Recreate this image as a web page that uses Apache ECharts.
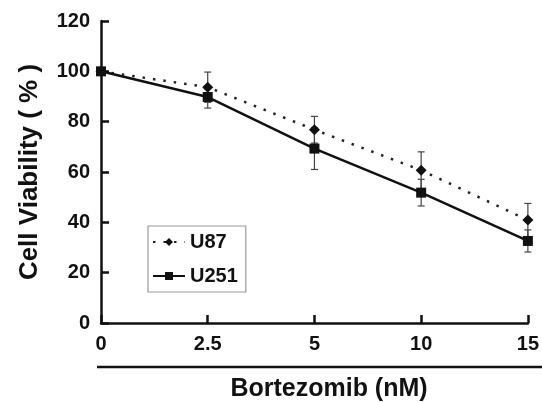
<!DOCTYPE html>
<html>
<head>
<meta charset="utf-8">
<script src="https://cdn.jsdelivr.net/npm/echarts@6/dist/echarts.min.js"></script>
<style>html,body{margin:0;padding:0;background:#fff}#c{width:542px;height:402px}</style>
</head>
<body>
<div id="c"></div>
<script>
const categories = ['0', '2.5', '5', '10', '15'];
const u87Values = [100, 93.7, 76.8, 60.7, 40.9];
const u87Errors = [0, 6.0, 5.3, 7.3, 6.6];
const u251Values = [100, 89.8, 69.3, 51.8, 32.6];
const u251Errors = [0, 4.4, 8.3, 5.3, 4.4];
const yTicks = [0, 20, 40, 60, 80, 100, 120];

const FONT = 'Liberation Sans, Arial, sans-serif';

function errData(vals, errs) {
  return vals.map((v, i) => [i, v - errs[i], v + errs[i]]);
}
function errRender(params, api) {
  const i = api.value(0);
  const lo = api.coord([i, api.value(1)]);
  const hi = api.coord([i, api.value(2)]);
  if (Math.abs(lo[1] - hi[1]) < 1) return null;
  const w = 3.5;
  const st = { stroke: '#444', lineWidth: 1.2 };
  return {
    type: 'group',
    children: [
      { type: 'line', shape: { x1: lo[0], y1: lo[1], x2: hi[0], y2: hi[1] }, style: st },
      { type: 'line', shape: { x1: lo[0] - w, y1: lo[1], x2: lo[0] + w, y2: lo[1] }, style: st },
      { type: 'line', shape: { x1: hi[0] - w, y1: hi[1], x2: hi[0] + w, y2: hi[1] }, style: st }
    ]
  };
}

const chart = echarts.init(document.getElementById('c'), null, { renderer: 'canvas' });
chart.setOption({
  animation: false,
  backgroundColor: '#fff',
  textStyle: { fontFamily: FONT },
  grid: { left: 101, right: 13, top: 21, bottom: 79, containLabel: false },
  legend: {
    left: 148, top: 226, orient: 'vertical',
    data: ['U87', 'U251'],
    borderColor: '#999', borderWidth: 1.2,
    padding: [6, 8, 6, 4],
    itemWidth: 32, itemHeight: 10, itemGap: 14,
    textStyle: { fontFamily: FONT, fontWeight: 'bold', fontSize: 20, color: '#111' }
  },
  xAxis: {
    type: 'category', data: categories, boundaryGap: false,
    axisLine: { lineStyle: { color: '#111', width: 2.5 } },
    axisTick: { inside: true, length: 8, lineStyle: { color: '#111', width: 2.5 }, alignWithLabel: true },
    axisLabel: { color: '#111', fontWeight: 'bold', fontSize: 20, margin: 11, fontFamily: FONT },
    splitLine: { show: false }
  },
  yAxis: {
    type: 'value', min: 0, max: 120, interval: 20,
    name: 'Cell Viability ( % )', nameLocation: 'middle', nameGap: 58,
    nameTextStyle: { fontWeight: 'bold', fontSize: 26, color: '#111', fontFamily: FONT },
    axisLine: { show: true, lineStyle: { color: '#111', width: 2.5 } },
    axisTick: { show: true, inside: true, length: 8, lineStyle: { color: '#111', width: 2.5 } },
    axisLabel: { color: '#111', fontWeight: 'bold', fontSize: 20, margin: 11, fontFamily: FONT,
      formatter: v => yTicks.includes(v) ? String(v) : '' },
    splitLine: { show: false }
  },
  graphic: [
    { type: 'line', shape: { x1: 97, y1: 367, x2: 542, y2: 367 }, style: { stroke: '#111', lineWidth: 2.5 } },
    { type: 'text', x: 329, y: 389,
      style: { text: 'Bortezomib (nM)', fontFamily: FONT, fontWeight: 'bold', fontSize: 25, fill: '#111',
        align: 'center', verticalAlign: 'middle' } }
  ],
  series: [
    { type: 'custom', name: 'errU87', renderItem: errRender, data: errData(u87Values, u87Errors), z: 1, silent: true },
    { type: 'custom', name: 'errU251', renderItem: errRender, data: errData(u251Values, u251Errors), z: 1, silent: true },
    {
      name: 'U87', type: 'line', data: u87Values, z: 3,
      symbol: 'diamond', symbolSize: 11,
      itemStyle: { color: '#111' },
      lineStyle: { color: '#222', width: 2.5, type: [2.5, 8] }
    },
    {
      name: 'U251', type: 'line', data: u251Values, z: 4,
      symbol: 'rect', symbolSize: 10,
      itemStyle: { color: '#111' },
      lineStyle: { color: '#111', width: 2.5, type: 'solid' }
    }
  ]
});
</script>
</body>
</html>
